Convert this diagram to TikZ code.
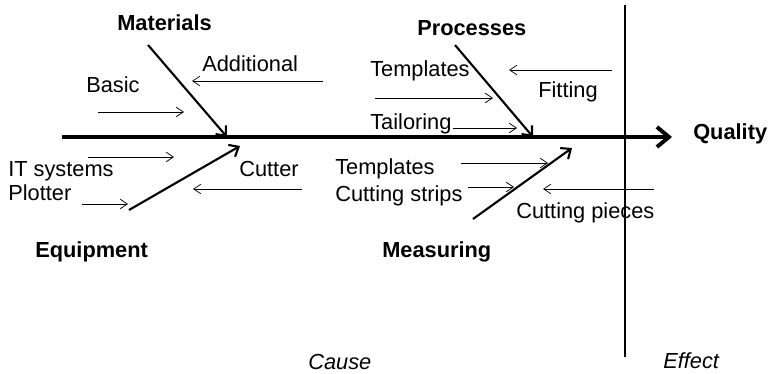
\documentclass[tikz,border=0pt]{standalone}
\usepackage{fontspec}
\setmainfont{Liberation Sans}
\usetikzlibrary{arrows.meta}
\tikzset{
  txt/.style={inner sep=0pt, anchor=base west, font=\fontsize{15.5}{18}\selectfont},
  cat/.style={txt, font=\fontsize{15.5}{18}\selectfont\bfseries},
  side/.style={txt, font=\fontsize{15.5}{18}\selectfont\itshape},
  bone/.style={line width=1.5pt, -{Straight Barb[length=2mm,width=3.4mm]}},
  twig/.style={line width=0.5pt, -{Straight Barb[length=1.8mm,width=2.4mm]}},
}
\begin{document}
\begin{tikzpicture}[x=0.025cm,y=-0.025cm]
      \useasboundingbox (0,0) rectangle (770,374);

      \coordinate (spine-s) at ( 62,137);
      \coordinate (spine-e) at (672,137);
      \coordinate (cut-t)   at (625,  5);
      \coordinate (cut-b)   at (625,357);

      \coordinate (mat-s) at (148, 45);  \coordinate (mat-e) at (227,137);
      \coordinate (pro-s) at (455, 45);  \coordinate (pro-e) at (533,137);
      \coordinate (equ-s) at (129,210);  \coordinate (equ-e) at (240,146);
      \coordinate (mea-s) at (473,219);  \coordinate (mea-e) at (572,148);

      \coordinate (bas-s) at ( 98,112);  \coordinate (bas-e) at (184,112);
      \coordinate (add-s) at (323, 81);  \coordinate (add-e) at (192, 81);
      \coordinate (its-s) at ( 88,157);  \coordinate (its-e) at (174,157);
      \coordinate (plo-s) at ( 82,204);  \coordinate (plo-e) at (128,204);
      \coordinate (cut-s) at (302,189);  \coordinate (cut-e) at (193,189);
      \coordinate (tp1-s) at (375, 98);  \coordinate (tp1-e) at (493, 98);
      \coordinate (fit-s) at (612, 70);  \coordinate (fit-e) at (509, 70);
      \coordinate (tai-s) at (453,128);  \coordinate (tai-e) at (517,128);
      \coordinate (tp2-s) at (461,163);  \coordinate (tp2-e) at (548,163);
      \coordinate (str-s) at (468,187);  \coordinate (str-e) at (514,187);
      \coordinate (pie-s) at (654,189);  \coordinate (pie-e) at (543,189);

      \node[cat]  (materials)  at (117, 31) {Materials};
      \node[cat]  (processes)  at (417, 36) {Processes};
      \node[cat]  (equipment)  at ( 35,257) {Equipment};
      \node[cat]  (measuring)  at (382,257) {Measuring};
      \node[cat]  (quality)    at (693,140) {Quality};

      \node[txt]  (additional) at (202, 72) {Additional};
      \node[txt]  (basic)      at ( 86, 93) {Basic};
      \node[txt]  (itsystems)  at (  8,176) {IT systems};
      \node[txt]  (cutter)     at (239,176) {Cutter};
      \node[txt]  (plotter)    at (  8,200) {Plotter};
      \node[txt]  (templup)    at (370, 77) {Templates};
      \node[txt]  (fitting)    at (538, 98) {Fitting};
      \node[txt]  (tailoring)  at (370,130) {Tailoring};
      \node[txt]  (templlow)   at (335,174) {Templates};
      \node[txt]  (strips)     at (335,201) {Cutting strips};
      \node[txt]  (pieces)     at (516,218) {Cutting pieces};

      \node[side] (cause)      at (308,369) {Cause};
      \node[side] (effect)     at (663,368) {Effect};

      \draw[line width=1.2pt] (cut-t) -- (cut-b);
      \draw[line width=2.8pt,-{Straight Barb[length=3mm,width=5mm]}] (spine-s) -- (spine-e);

      \draw[bone] (mat-s) -- (mat-e);
      \draw[bone] (pro-s) -- (pro-e);
      \draw[bone] (equ-s) -- (equ-e);
      \draw[bone] (mea-s) -- (mea-e);

      \draw[twig] (bas-s) -- (bas-e);
      \draw[twig] (add-s) -- (add-e);
      \draw[twig] (its-s) -- (its-e);
      \draw[twig] (plo-s) -- (plo-e);
      \draw[twig] (cut-s) -- (cut-e);
      \draw[twig] (tp1-s) -- (tp1-e);
      \draw[twig] (fit-s) -- (fit-e);
      \draw[twig] (tai-s) -- (tai-e);
      \draw[twig] (tp2-s) -- (tp2-e);
      \draw[twig] (str-s) -- (str-e);
      \draw[twig] (pie-s) -- (pie-e);
    \end{tikzpicture}
\end{document}
